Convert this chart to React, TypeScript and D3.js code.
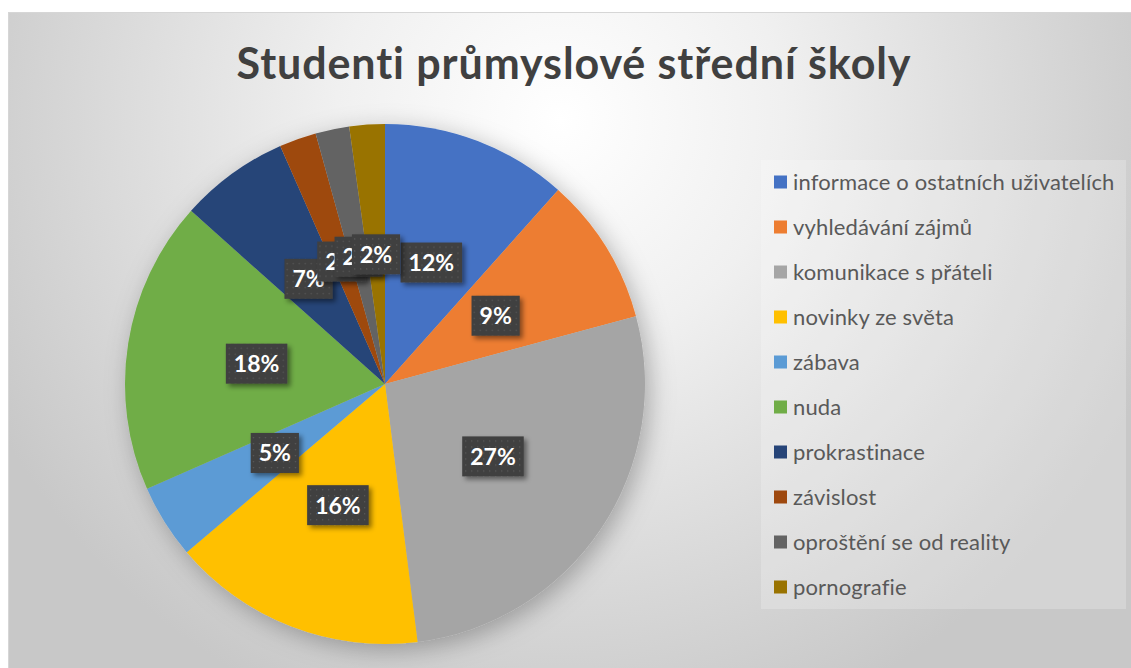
import React, { useEffect, useRef } from "react";
import * as d3 from "d3";

const categories = [
  "informace o ostatních uživatelích",
  "vyhledávání zájmů",
  "komunikace s přáteli",
  "novinky ze světa",
  "zábava",
  "nuda",
  "prokrastinace",
  "závislost",
  "oproštění se od reality",
  "pornografie",
];
const values = [11.6, 9.2, 27.2, 15.8, 4.6, 18.2, 6.8, 2.3, 2.1, 2.2];
const colors = [
  "#4472C4", "#ED7D31", "#A5A5A5", "#FFC000", "#5B9BD5",
  "#70AD47", "#264478", "#9E480E", "#636363", "#997300",
];
const title = "Studenti průmyslové střední školy";

const W = 1131;
const H = 668;

export default function App() {
  const ref = useRef<SVGSVGElement>(null);

  useEffect(() => {
    const svg = d3.select(ref.current);
    svg.selectAll("*").remove();

    const defs = svg.append("defs");
    const bg = defs.append("radialGradient").attr("id", "bg")
      .attr("gradientUnits", "userSpaceOnUse")
      .attr("cx", 560).attr("cy", 120).attr("r", 640);
    bg.append("stop").attr("offset", "0").attr("stop-color", "#ffffff");
    bg.append("stop").attr("offset", "0.35").attr("stop-color", "#f0f0f0");
    bg.append("stop").attr("offset", "1").attr("stop-color", "#c8c8c8");

    const pieShadow = defs.append("filter").attr("id", "pieShadow")
      .attr("x", "-20%").attr("y", "-20%").attr("width", "140%").attr("height", "140%");
    pieShadow.append("feDropShadow").attr("dx", 5).attr("dy", 6)
      .attr("stdDeviation", 12).attr("flood-color", "#000").attr("flood-opacity", 0.28);

    const lblShadow = defs.append("filter").attr("id", "lblShadow")
      .attr("x", "-30%").attr("y", "-30%").attr("width", "160%").attr("height", "160%");
    lblShadow.append("feDropShadow").attr("dx", 3).attr("dy", 3)
      .attr("stdDeviation", 2.5).attr("flood-color", "#000").attr("flood-opacity", 0.45);

    const pat = defs.append("pattern").attr("id", "dots")
      .attr("patternUnits", "userSpaceOnUse").attr("width", 6).attr("height", 6);
    pat.append("rect").attr("width", 6).attr("height", 6).attr("fill", "#3f3f3f");
    pat.append("rect").attr("x", 2).attr("y", 2).attr("width", 1.3).attr("height", 1.3).attr("fill", "#5a5a5a");

    // page background
    svg.append("rect").attr("width", W).attr("height", H).attr("fill", "#ffffff");
    // chart area
    svg.append("rect").attr("x", 8).attr("y", 12).attr("width", W - 8).attr("height", H - 12)
      .attr("fill", "url(#bg)");
    svg.append("line").attr("x1", 8).attr("x2", W).attr("y1", 12.5).attr("y2", 12.5)
      .attr("stroke", "#d6d6d6").attr("stroke-width", 1);
    svg.append("line").attr("x1", 8.5).attr("x2", 8.5).attr("y1", 12).attr("y2", H)
      .attr("stroke", "#d6d6d6").attr("stroke-width", 1);

    // title
    svg.append("text").attr("x", 574).attr("y", 79).attr("text-anchor", "middle")
      .attr("font-family", "Lato, 'Open Sans', sans-serif").attr("font-weight", 700)
      .attr("font-size", 43).attr("letter-spacing", 0.9)
      .attr("fill", "#404040").text(title);

    // pie
    const cx = 385, cy = 384, r = 260;
    const pie = d3.pie<number>().value((d) => d).sort(null);
    const arcs = pie(values);
    const arc = d3.arc<d3.PieArcDatum<number>>().innerRadius(0).outerRadius(r);
    const g = svg.append("g").attr("transform", `translate(${cx},${cy})`);
    const slices = g.append("g").attr("filter", "url(#pieShadow)");
    slices.selectAll("path").data(arcs).join("path")
      .attr("d", arc as any)
      .attr("fill", (_d, i) => colors[i]);

    // labels
    const total = d3.sum(values);
    const lg = g.append("g");
    arcs.forEach((a) => {
      const [lx, ly] = arc.centroid(a);
      const txt = `${Math.round((a.data / total) * 100)}%`;
      const item = lg.append("g").attr("transform", `translate(${lx},${ly})`);
      const rect = item.append("rect").attr("fill", "url(#dots)").attr("filter", "url(#lblShadow)");
      const t = item.append("text").attr("text-anchor", "middle").attr("y", 8.5)
        .attr("font-family", "Lato, 'Open Sans', sans-serif").attr("font-weight", 700)
        .attr("font-size", 23).attr("fill", "#ffffff").text(txt);
      const tw = (t.node() as SVGTextElement).getComputedTextLength();
      const bw = tw + 16;
      rect.attr("x", -bw / 2).attr("y", -20).attr("width", bw).attr("height", 40);
    });

    // legend
    const legX = 761, legY = 160;
    svg.append("rect").attr("x", legX).attr("y", legY).attr("width", 365).attr("height", 449)
      .attr("fill", "#ffffff").attr("fill-opacity", 0.22);
    const leg = svg.append("g");
    categories.forEach((c, i) => {
      const yy = 182 + i * 45;
      leg.append("rect").attr("x", 774).attr("y", yy - 6.5).attr("width", 13).attr("height", 13)
        .attr("fill", colors[i]);
      leg.append("text").attr("x", 793).attr("y", yy + 7.5)
        .attr("font-family", "Lato, 'Open Sans', sans-serif").attr("font-size", 22)
        .attr("letter-spacing", 0.15)
        .attr("fill", "#595959").text(c);
    });
  }, []);

  return (
    <svg ref={ref} width={W} height={H}
      style={{ position: "absolute", left: 0, top: 0, display: "block" }} />
  );
}
